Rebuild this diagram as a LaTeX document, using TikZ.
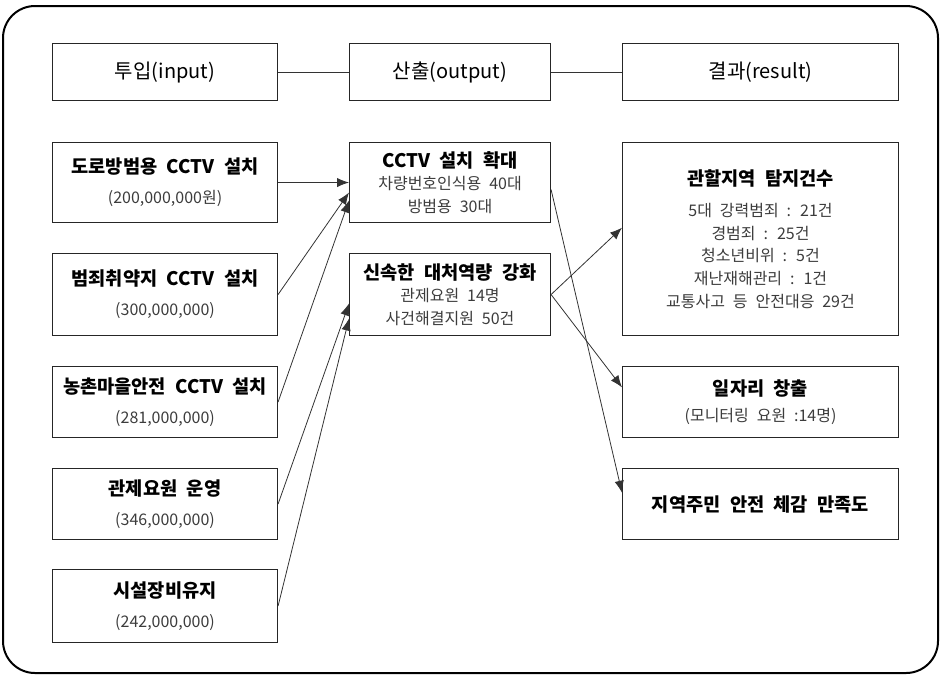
\documentclass[tikz,border=0pt]{standalone}
\usepackage{fontspec}
\setmainfont[WordSpace=2.2]{Noto Sans CJK KR}
\usepackage{tikz}
\usetikzlibrary{arrows.meta}
\usetikzlibrary{positioning}
\definecolor{subgray}{RGB}{60,60,60}
\newcommand{\subtx}[1]{{\fontsize{12}{17}\selectfont\color{subgray}#1}}

\begin{document}
\begin{tikzpicture}[x=0.75pt, y=-0.75pt,
	box/.style={rectangle, draw=black!85, line width=0.8pt, inner sep=0pt, align=center, font=\fontsize{14}{17}\selectfont},
	headbox/.style={box, minimum height=42.75pt, font=\fontsize{15}{18}\selectfont},
	inbox/.style={box, minimum width=168.75pt},
	outbox/.style={box, minimum width=150.75pt},
	resbox/.style={box, minimum width=207pt},
	link/.style={draw=black!80, line width=0.6pt}]

\useasboundingbox (0,0) rectangle (941,676);
\draw [line width=1.5pt, rounded corners=24pt] (3,6) rectangle (938,673);

\node at (52,43)[headbox, minimum width=168.75pt, anchor=north west] (inp) {투입(input)};
\node at (349,43)[headbox, minimum width=150.75pt, anchor=north west] (outp) {산출(output)};
\node at (622,43)[headbox, minimum width=207pt, anchor=north west] (res) {결과(result)};
\draw [link] (inp.east) -- (outp.west);
\draw [link] (outp.east) -- (res.west);

\node at (52,142)[inbox, minimum height=60pt, anchor=north west] (in1) {\textbf{도로방범용 CCTV 설치}\\[5.5pt]\subtx{(200,000,000원)}};
\node at (52,253)[inbox, minimum height=61.5pt, anchor=north west] (in2) {\textbf{범죄취약지 CCTV 설치}\\[5.5pt]\subtx{(300,000,000)}};
\node at (52,366)[inbox, minimum height=53.25pt, anchor=north west] (in3) {\textbf{농촌마을안전 CCTV 설치}\\[5.5pt]\subtx{(281,000,000)}};
\node at (52,468)[inbox, minimum height=53.25pt, anchor=north west] (in4) {\textbf{관제요원 운영}\\[5.5pt]\subtx{(346,000,000)}};
\node at (52,569)[inbox, minimum height=54.75pt, anchor=north west] (in5) {\textbf{시설장비유지}\\[5.5pt]\subtx{(242,000,000)}};

\node at (349,142)[outbox, minimum height=60pt, anchor=north west] (out1) {\textbf{CCTV 설치 확대}\\\subtx{차량번호인식용 40대}\\\subtx{방범용 30대}};
\node at (349,253)[outbox, minimum height=61.5pt, anchor=north west] (out2) {\textbf{신속한 대처역량 강화}\\\subtx{관제요원 14명}\\\subtx{사건해결지원 50건}};

\node at (622,142)[resbox, minimum height=144.75pt, anchor=north west] (res1) {\textbf{관할지역 탐지건수}\\[6pt]\subtx{5대 강력범죄 : 21건}\\\subtx{경범죄 : 25건}\\\subtx{청소년비위 : 5건}\\\subtx{재난재해관리 : 1건}\\\subtx{교통사고 등 안전대응 29건}};
\node at (622,366)[resbox, minimum height=53.25pt, anchor=north west] (res2) {\textbf{일자리 창출}\\[3pt]\subtx{(모니터링 요원 :14명)}};
\node at (622,468)[resbox, minimum height=53.25pt, anchor=north west] (res3) {\textbf{지역주민 안전 체감 만족도}};

\begin{scope}[>={Latex[length=9pt,width=7pt]}]
	\draw [link, ->] (in1.east) to [bend right=0] (out1.west);
	\draw [link, ->] (in2.east) to [bend right=0] ([yshift=-7.5pt]out1.west);
	\draw [link, ->] (in3.east) to [bend right=0] ([yshift=-13.5pt]out1.west);
	\draw [link, ->] (in4.east) to [bend right=0] ([yshift=-6.75pt]out2.west);
	\draw [link, ->] (in5.east) to [bend right=0] ([yshift=-18pt]out2.west);
	\draw [link, ->] ([yshift=-5.25pt]out1.east) to [bend right=0] ([yshift=8.5pt]res3.west);
	\draw [link, ->] (out2.east) to [bend right=0] ([yshift=8.5pt]res1.west);
	\draw [link, ->] (out2.east) to [bend right=0] ([yshift=11pt]res2.west);
\end{scope}

\end{tikzpicture}
\end{document}
